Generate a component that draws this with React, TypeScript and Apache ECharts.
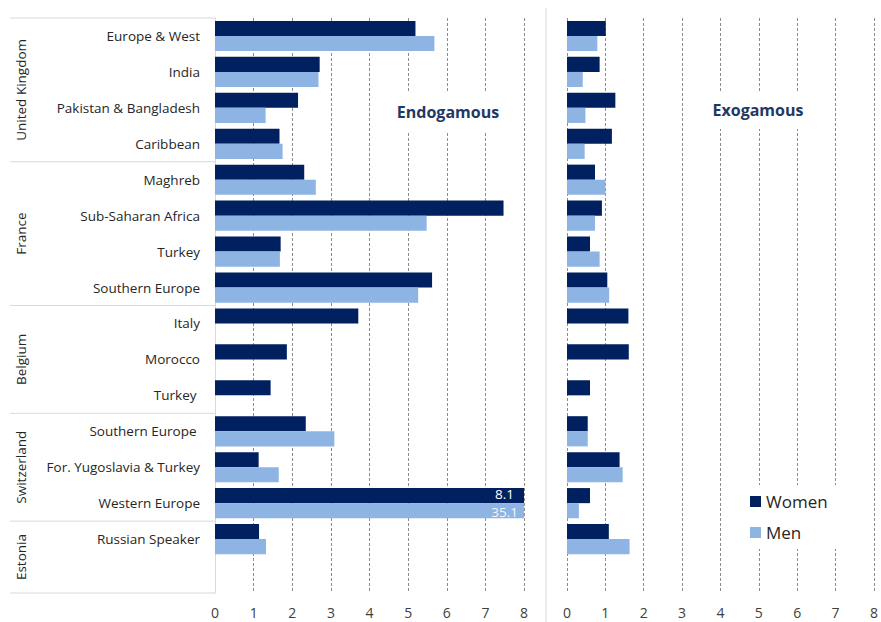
import React, { useEffect, useRef } from "react";
import * as echarts from "echarts";

const categories = [
  "Europe & West", "India", "Pakistan & Bangladesh", "Caribbean",
  "Maghreb", "Sub-Saharan Africa", "Turkey", "Southern Europe",
  "Italy", "Morocco", "Turkey ",
  "Southern Europe ", "For. Yugoslavia & Turkey", "Western Europe",
  "Russian Speaker", "",
];
const groupNames = ["United Kingdom", "France", "Belgium", "Switzerland", "Estonia"];
const groupSizes = [4, 4, 3, 3, 2];

const endoWomen = [5.19, 2.71, 2.15, 1.67, 2.31, 7.47, 1.70, 5.62, 3.71, 1.86, 1.44, 2.35, 1.13, 8.1, 1.14, null];
const endoMen = [5.68, 2.68, 1.31, 1.75, 2.61, 5.48, 1.68, 5.26, null, null, null, 3.09, 1.65, 35.1, 1.32, null];
const exoWomen = [1.01, 0.85, 1.26, 1.17, 0.73, 0.91, 0.60, 1.05, 1.60, 1.61, 0.60, 0.54, 1.37, 0.60, 1.09, null];
const exoMen = [0.79, 0.41, 0.48, 0.46, 1.00, 0.73, 0.85, 1.10, null, null, null, 0.54, 1.45, 0.31, 1.63, null];

const AXIS_MAX = 8;

const WOMEN = "#002060";
const MEN = "#8DB4E2";
const FONT = "Open Sans";

const GRID_TOP = 18;
const GRID_H = 575;
const LEFT_L = 215;
const PANEL_W = 309;
const RIGHT_L = 567;

function buildData(vals: (number | null)[], labelColor: string, dist: number, dy: number) {
  return vals.map((v) => {
    if (v == null) return "-";
    if (v > AXIS_MAX) {
      return {
        value: v,
        label: {
          show: true,
          position: "insideRight",
          distance: dist,
          offset: [0, dy],
          formatter: String(v),
          color: labelColor,
          fontSize: 13.5,
          lineHeight: 12,
          fontFamily: FONT,
        },
      };
    }
    return v;
  });
}

export default function App() {
  const ref = useRef<HTMLDivElement>(null);
  useEffect(() => {
    document.body.style.margin = "0";
    const chart = echarts.init(ref.current!, null, { renderer: "svg" });
    const rowH = GRID_H / categories.length;

    const graphics: any[] = [];
    let row = 0;
    const lineStyle = { stroke: "#d9d9d9", lineWidth: 1 };
    graphics.push({ type: "line", shape: { x1: 10, y1: GRID_TOP, x2: LEFT_L, y2: GRID_TOP }, style: lineStyle });
    groupNames.forEach((g, i) => {
      const start = row;
      row += groupSizes[i];
      const yEnd = GRID_TOP + row * rowH;
      graphics.push({ type: "line", shape: { x1: 10, y1: yEnd, x2: LEFT_L, y2: yEnd }, style: lineStyle });
      graphics.push({
        type: "text",
        x: 21,
        y: GRID_TOP + ((start + row) / 2) * rowH,
        rotation: Math.PI / 2,
        style: {
          text: g,
          align: "center",
          verticalAlign: "middle",
          fontSize: 13.5,
          fontFamily: FONT,
          fill: "#262626",
        },
      });
    });
    graphics.push({ type: "line", shape: { x1: 546, y1: 8, x2: 546, y2: 622 }, style: lineStyle });
    graphics.push({
      type: "text",
      x: 448,
      y: 112,
      z: 10,
      style: {
        text: "Endogamous",
        align: "center",
        verticalAlign: "middle",
        fontSize: 16,
        fontWeight: "bold",
        fontFamily: FONT,
        fill: "#1F3864",
        backgroundColor: "#fff",
        padding: [11, 12, 11, 12],
      },
    });
    graphics.push({
      type: "text",
      x: 758,
      y: 110,
      z: 10,
      style: {
        text: "Exogamous",
        align: "center",
        verticalAlign: "middle",
        fontSize: 16,
        fontWeight: "bold",
        fontFamily: FONT,
        fill: "#1F3864",
        backgroundColor: "#fff",
        padding: [11, 14, 11, 14],
      },
    });

    const xAxisCommon = {
      type: "value",
      min: 0,
      max: AXIS_MAX,
      interval: 1,
      axisLine: { show: false },
      axisTick: { show: false },
      axisLabel: { fontSize: 14, color: "#404040", fontFamily: FONT, margin: 12 },
      splitLine: { show: true, lineStyle: { color: "#8c8c8c", type: [3, 2], width: 1 } },
    };

    const barCommon = {
      type: "bar",
      barGap: "0%",
      barCategoryGap: "16%",
    };

    chart.setOption({
      animation: false,
      textStyle: { fontFamily: FONT },
      grid: [
        { left: LEFT_L, top: GRID_TOP, width: PANEL_W, height: GRID_H },
        { left: RIGHT_L, top: GRID_TOP, width: PANEL_W, height: GRID_H },
      ],
      xAxis: [
        { ...xAxisCommon, gridIndex: 0 },
        { ...xAxisCommon, gridIndex: 1 },
      ],
      yAxis: [
        {
          type: "category",
          gridIndex: 0,
          data: categories,
          inverse: true,
          axisLine: { show: true, lineStyle: { color: "#d9d9d9" } },
          axisTick: { show: false },
          axisLabel: { fontSize: 13.5, color: "#262626", fontFamily: FONT, margin: 15 },
        },
        {
          type: "category",
          gridIndex: 1,
          data: categories,
          inverse: true,
          axisLine: { show: false },
          axisTick: { show: false },
          axisLabel: { show: false },
        },
      ],
      legend: {
        data: ["Women", "Men"],
        orient: "vertical",
        left: 744,
        top: 485,
        padding: [8, 16, 8, 6],
        backgroundColor: "#fff",
        itemWidth: 11,
        itemHeight: 11,
        itemGap: 14,
        icon: "rect",
        textStyle: { fontSize: 17, color: "#262626", fontFamily: FONT },
        z: 10,
      },
      graphic: graphics,
      series: [
        { ...barCommon, name: "Women", xAxisIndex: 0, yAxisIndex: 0, data: buildData(endoWomen, "#ffffff", 10, -2), itemStyle: { color: WOMEN } },
        { ...barCommon, name: "Men", xAxisIndex: 0, yAxisIndex: 0, data: buildData(endoMen, "#f2f6fc", 6, 1), itemStyle: { color: MEN } },
        { ...barCommon, name: "Women", xAxisIndex: 1, yAxisIndex: 1, data: buildData(exoWomen, "#ffffff", 10, -2), itemStyle: { color: WOMEN } },
        { ...barCommon, name: "Men", xAxisIndex: 1, yAxisIndex: 1, data: buildData(exoMen, "#f2f6fc", 6, 1), itemStyle: { color: MEN } },
      ],
    });
    return () => chart.dispose();
  }, []);
  return <div ref={ref} style={{ width: 881, height: 622 }} />;
}
